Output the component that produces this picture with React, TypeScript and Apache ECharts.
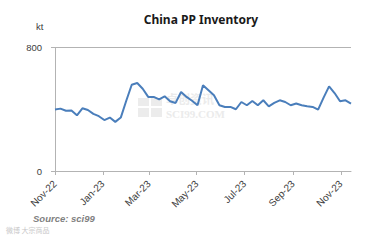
import React, { useEffect, useRef } from "react";
import * as echarts from "echarts";

// Weekly China PP inventory (kt), first week of Nov 2022 onward
const startDate = "2022-11-01";
const inventory = [
  398, 404, 390, 392, 361, 406, 395, 370, 355, 330, 346, 318, 346, 455, 559, 570,
  533, 480, 480, 464, 484, 452, 441, 512, 480, 455, 426, 555, 523, 490, 426, 415,
  415, 400, 447, 426, 454, 426, 458, 419, 441, 458, 447, 426, 437, 426, 420, 415,
  398, 475, 548, 505, 452, 458, 437,
];
const tickMonths = ["2022-11-01", "2023-01-01", "2023-03-01", "2023-05-01", "2023-07-01", "2023-09-01", "2023-11-01"];
const tickLabels = ["Nov-22", "Jan-23", "Mar-23", "May-23", "Jul-23", "Sep-23", "Nov-23"];
const yTicks = [0, 800];

const DAY = 86400000;
const t0 = Date.parse(startDate + "T00:00:00Z");
const dayOf = (d: string) => Math.round((Date.parse(d + "T00:00:00Z") - t0) / DAY);

export default function App() {
  const ref = useRef<HTMLDivElement>(null);
  useEffect(() => {
    if (!ref.current) return;
    document.body.style.margin = "0";
    const chart = echarts.init(ref.current, null, { renderer: "svg" });
    const tickDays = tickMonths.map(dayOf);
    const data = inventory.map((v, i) => [i * 7, v]);
    const lastDay = (inventory.length - 1) * 7;
    const axisGrey = "#b3b3b3";
    const labelColor = "#404040";
    chart.setOption({
      animation: false,
      backgroundColor: "#ffffff",
      title: {
        text: "China PP Inventory",
        left: 196,
        top: 8,
        textAlign: "center",
        textStyle: { fontFamily: "Noto Sans", fontWeight: "bold", fontSize: 12, color: "#1a1a1a" },
      },
      grid: { left: 55, right: 19, top: 47.5, bottom: 70 },
      xAxis: {
        type: "value",
        min: 0,
        max: lastDay,
        axisLine: { show: true, lineStyle: { color: axisGrey, width: 1 } },
        axisTick: { show: true, length: 4, customValues: tickDays, lineStyle: { color: axisGrey } },
        splitLine: { show: false },
        axisLabel: {
          customValues: tickDays,
          rotate: 45,
          margin: 11,
          fontFamily: "Liberation Sans",
          fontSize: 10,
          color: labelColor,
          formatter: (v: number) => {
            const i = tickDays.indexOf(v);
            return i >= 0 ? tickLabels[i] : "";
          },
        },
      },
      yAxis: {
        type: "value",
        min: yTicks[0],
        max: yTicks[1],
        interval: 800,
        axisLine: { show: true, lineStyle: { color: axisGrey, width: 1 } },
        axisTick: { show: true, length: 4, lineStyle: { color: axisGrey } },
        splitLine: { show: true, lineStyle: { color: axisGrey, width: 1 } },
        axisLabel: { margin: 13, fontFamily: "Liberation Sans", fontSize: 9.5, color: labelColor },
      },
      graphic: [
        { type: "rect", left: 138, top: 98, shape: { width: 11, height: 8 }, style: { fill: "#ececec" }, silent: true, z: 0 },
        { type: "rect", left: 151, top: 98, shape: { width: 11, height: 8 }, style: { fill: "#ececec" }, silent: true, z: 0 },
        { type: "rect", left: 138, top: 108, shape: { width: 11, height: 9 }, style: { fill: "#ececec" }, silent: true, z: 0 },
        { type: "rect", left: 151, top: 108, shape: { width: 11, height: 9 }, style: { fill: "#ececec" }, silent: true, z: 0 },
        { type: "text", left: 166, top: 92, style: { text: "卓创资讯", fontFamily: "Noto Sans CJK SC", fontSize: 12, fontWeight: "bold", fill: "#ebebeb" }, silent: true, z: 0 },
        { type: "text", left: 166, top: 108, style: { text: "SCI99.COM", fontFamily: "Liberation Serif", fontSize: 11, fontWeight: "bold", fill: "#ebebeb" }, silent: true, z: 0 },
        { type: "text", left: 36, top: 21, style: { text: "kt", fontFamily: "Liberation Sans", fontSize: 9.5, fill: labelColor } },
        { type: "text", left: 33, top: 213, style: { text: "Source: sci99", fontFamily: "Liberation Sans", fontStyle: "italic", fontWeight: "bold", fontSize: 9.5, fill: "#7f7f7f" } },
        { type: "text", left: 6, top: 226, style: { text: "微博 大宗商品", fontFamily: "Noto Sans CJK SC", fontSize: 7, fill: "#c8c8c8" } },
      ],
      series: [
        {
          type: "line",
          data,
          showSymbol: false,
          symbol: "none",
          lineStyle: { color: "#4a7ebb", width: 2 },
          z: 5,
        },
      ],
    });
    return () => chart.dispose();
  }, []);
  return <div ref={ref} style={{ width: 370, height: 241 }} />;
}
